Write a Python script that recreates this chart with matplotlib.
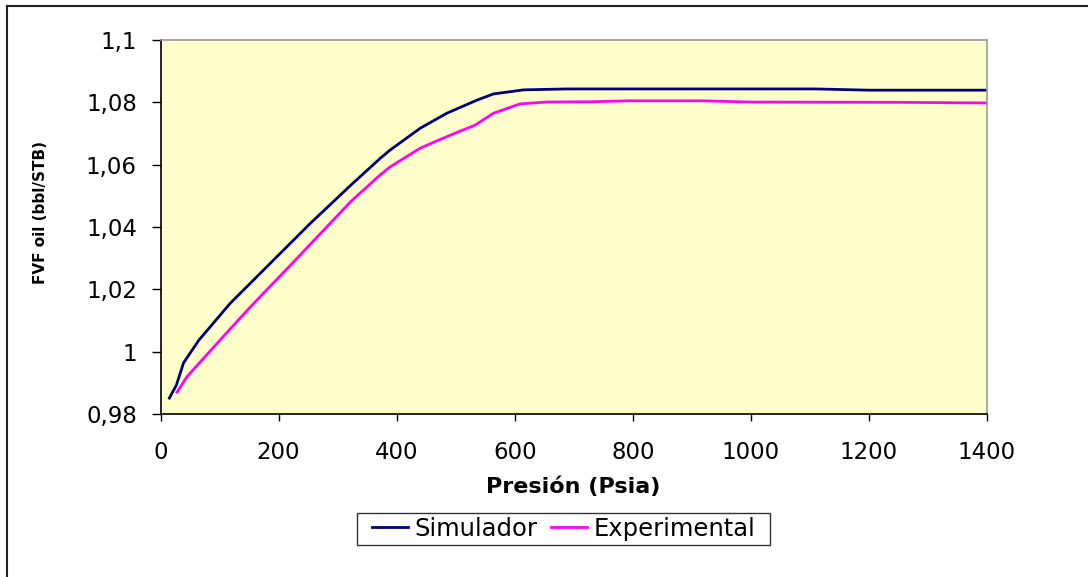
import matplotlib
matplotlib.use("Agg")
import matplotlib.pyplot as plt
from matplotlib.lines import Line2D
from matplotlib.patches import Rectangle
from matplotlib.ticker import FixedLocator, FixedFormatter

plt.rcParams['font.family'] = ['DejaVu Sans']

# Data
sim_p = [15, 27, 39, 65, 118, 200, 254, 320, 372, 389, 440, 485, 536, 564, 615, 688, 1110, 1200, 1400]
sim_b = [0.9851, 0.9893, 0.9964, 1.0037, 1.0155, 1.031, 1.0412, 1.053, 1.062, 1.0647, 1.0717, 1.0765,
         1.0807, 1.0827, 1.0840, 1.0843, 1.0843, 1.0839, 1.0839]
exp_p = [28, 45, 96, 150, 220, 282, 322, 372, 389, 440, 485, 533, 564, 609, 654, 733, 796, 914, 1000, 1250, 1400]
exp_b = [0.9870, 0.9920, 1.0027, 1.0139, 1.0277, 1.0401, 1.0481, 1.0567, 1.0593, 1.0653, 1.0690, 1.0727,
         1.0765, 1.0795, 1.0801, 1.0802, 1.0805, 1.0805, 1.0801, 1.0800, 1.0798]

x_ticks = [0, 200, 400, 600, 800, 1000, 1200, 1400]
y_ticks = [0.98, 1.00, 1.02, 1.04, 1.06, 1.08, 1.10]
y_tick_labels = ["0,98", "1", "1,02", "1,04", "1,06", "1,08", "1,1"]

W, H = 1088, 577
fig = plt.figure(figsize=(W/100, H/100), dpi=100)
ax = fig.add_axes([160.5/W, 1-414/H, (987-160.5)/W, (414-40)/H])
ax.set_facecolor('#FFFFCC')

ax.plot(sim_p, sim_b, color='#000080', lw=2.0, label='Simulador')
ax.plot(exp_p, exp_b, color='#FF00FF', lw=2.0, label='Experimental')

ax.set_xlim(0, 1400)
ax.set_ylim(0.98, 1.10)
ax.xaxis.set_major_locator(FixedLocator(x_ticks))
ax.yaxis.set_major_locator(FixedLocator(y_ticks))
ax.yaxis.set_major_formatter(FixedFormatter(y_tick_labels))
ax.tick_params(axis='both', direction='out', width=1, labelsize=16.5, colors='black')
ax.tick_params(axis='y', length=6.5, pad=10.5)
ax.tick_params(axis='x', length=4.8, pad=14.5)

for s in ['top', 'right']:
    ax.spines[s].set_color('#999999')
    ax.spines[s].set_linewidth(1.2)
for s in ['left', 'bottom']:
    ax.spines[s].set_color('black')
    ax.spines[s].set_linewidth(1.2)

fig.text(573/W, 1-487/H, 'Presión (Psia)', fontsize=16, fontweight='bold',
         ha='center', va='center')
fig.text(41/W, 1-213/H, 'FVF oil (bbl/STB)', fontsize=11, fontweight='bold',
         ha='center', va='center', rotation=90)

# legend frame drawn as its own box
fig.add_artist(Rectangle((357/W, 1-545/H), (770-357)/W, (545-512.7)/H,
                         transform=fig.transFigure, facecolor='white',
                         edgecolor='#333333', lw=1))
leg = fig.legend(loc='center', bbox_to_anchor=(563.5/W, 1-529/H), ncol=2,
                 fontsize=17.5, frameon=False,
                 handlelength=1.48, handletextpad=0.29, columnspacing=0.53,
                 borderpad=0.1, borderaxespad=0)
for h in leg.get_lines():
    h.set_linewidth(2)

# outer chart frame (left and top visible)
fig.add_artist(Line2D([7/W, 7/W], [0, 1-6/H], color='#222222', lw=1.5))
fig.add_artist(Line2D([7/W, 1], [1-6/H, 1-6/H], color='#222222', lw=1.5))

fig.savefig('out.png', dpi=100)
